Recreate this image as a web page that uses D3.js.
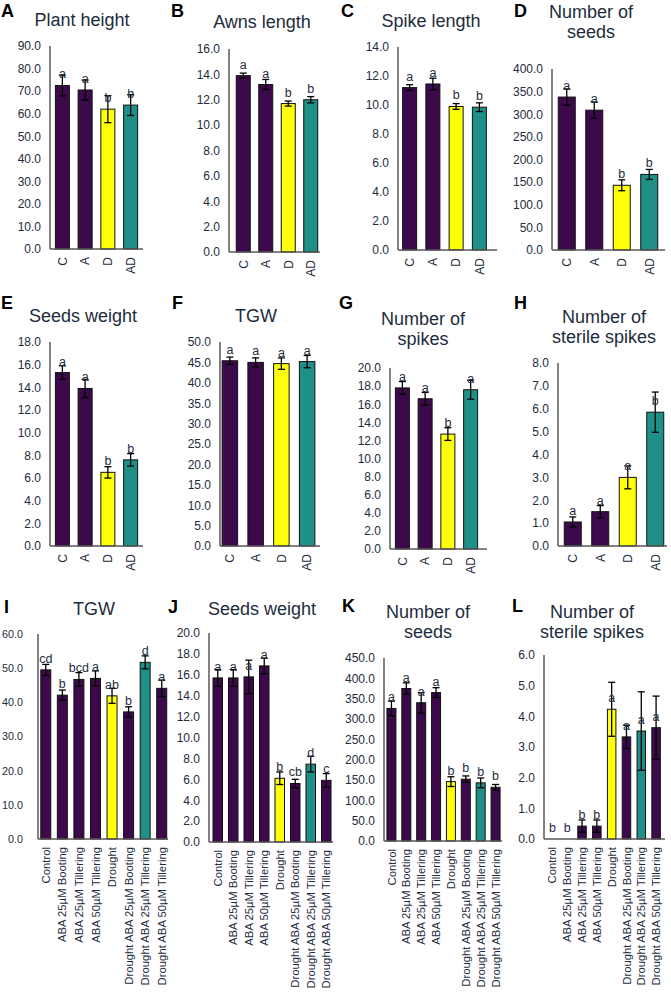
<!DOCTYPE html>
<html>
<head>
<meta charset="utf-8">
<script src="https://cdn.jsdelivr.net/npm/d3@7"></script>
<style>
  html, body { margin: 0; padding: 0; background: #fff; }
  svg { display: block; font-family: "Liberation Sans", Arial, sans-serif; }
</style>
</head>
<body>
<svg id="fig" width="671" height="992"></svg>
<script>
// categories
const catsShort = ["C", "A", "D", "AD"];
const catsLong = ["Control", "ABA 25µM Booting", "ABA 25µM Tillering", "ABA 50µM Tillering",
  "Drought", "Drought ABA 25µM Booting", "Drought ABA 25µM Tillering", "Drought ABA 50µM Tillering"];

const purple = "#3c0a4b", yellow = "#ffff0a", teal = "#1f9087";
const colorsShort = [purple, purple, yellow, teal];
const colorsLong = [purple, purple, purple, purple, yellow, purple, teal, purple];

// panels A-H (C, A, D, AD)
const plantHeight = [72.5, 70.5, 62.0, 63.8];
const plantHeightErr = [4.6, 4.4, 6.0, 4.6];
const plantHeightSig = ["a", "a", "b", "b"];

const awnsLength = [13.9, 13.2, 11.7, 12.0];
const awnsLengthErr = [0.2, 0.4, 0.2, 0.25];
const awnsLengthSig = ["a", "a", "b", "b"];

const spikeLength = [11.2, 11.45, 9.9, 9.85];
const spikeLengthErr = [0.2, 0.4, 0.2, 0.3];
const spikeLengthSig = ["a", "a", "b", "b"];

const seedsNumber = [338, 309, 143, 167];
const seedsNumberErr = [18, 18, 12, 11];
const seedsNumberSig = ["a", "a", "b", "b"];

const seedsWeight = [15.3, 13.9, 6.5, 7.6];
const seedsWeightErr = [0.6, 0.8, 0.5, 0.55];
const seedsWeightSig = ["a", "a", "b", "b"];

const tgw = [45.4, 45.0, 44.7, 45.2];
const tgwErr = [0.9, 1.1, 1.4, 1.5];
const tgwSig = ["a", "a", "a", "a"];

const spikesNumber = [17.8, 16.6, 12.7, 17.6];
const spikesNumberErr = [0.7, 0.7, 0.7, 1.05];
const spikesNumberSig = ["a", "a", "b", "a"];

const sterileSpikes = [1.05, 1.5, 3.0, 5.85];
const sterileSpikesErr = [0.22, 0.27, 0.5, 0.88];
const sterileSpikesSig = ["a", "a", "a", "b"];

// panels I-L (ABA treatments)
const tgwAba = [49.5, 42.1, 46.7, 47.0, 41.9, 37.2, 51.7, 44.1];
const tgwAbaErr = [1.6, 1.5, 2.0, 2.2, 2.2, 1.5, 1.9, 2.4];
const tgwAbaSig = ["cd", "b", "bcd", "a", "ab", "b", "d", "a"];

const seedsWeightAba = [15.7, 15.7, 15.8, 16.85, 6.1, 5.6, 7.45, 5.9];
const seedsWeightAbaErr = [0.8, 0.8, 1.6, 0.75, 0.6, 0.4, 0.75, 0.65];
const seedsWeightAbaSig = ["a", "a", "a", "a", "b", "cb", "d", "c"];

const seedsNumberAba = [326, 375, 340, 365, 146, 152, 143, 132];
const seedsNumberAbaErr = [18, 14, 25, 12, 12, 8, 12, 7];
const seedsNumberAbaSig = ["a", "a", "a", "a", "b", "b", "b", "b"];

const sterileSpikesAba = [0, 0, 0.42, 0.42, 4.23, 3.33, 3.52, 3.63];
const sterileSpikesAbaErr = [0, 0, 0.2, 0.2, 0.88, 0.38, 1.28, 1.03];
const sterileSpikesAbaSig = ["b", "b", "b", "b", "a", "a", "a", "a"];

// layout of each panel (pixel positions)
const panels = [
  { id: "A", title: ["Plant height"], cats: catsShort, colors: colorsShort, vals: plantHeight, errs: plantHeightErr, sig: plantHeightSig,
    yMax: 90, yStep: 10, ax: 50, top: 46, bot: 249, end: 143, b0: 51, b1: 142, bw: 14, lx: 1, ly: 17, tx: 82, ty: 26 },
  { id: "B", title: ["Awns length"], cats: catsShort, colors: colorsShort, vals: awnsLength, errs: awnsLengthErr, sig: awnsLengthSig,
    yMax: 16, yStep: 2, ax: 229, top: 49, bot: 252, end: 320, b0: 232, b1: 322, bw: 14, lx: 171, ly: 17, tx: 262, ty: 28 },
  { id: "C", title: ["Spike length"], cats: catsShort, colors: colorsShort, vals: spikeLength, errs: spikeLengthErr, sig: spikeLengthSig,
    yMax: 14, yStep: 2, ax: 398, top: 47, bot: 250, end: 497, b0: 398, b1: 491, bw: 14, lx: 341, ly: 17, tx: 431, ty: 27 },
  { id: "D", title: ["Number of", "seeds"], cats: catsShort, colors: colorsShort, vals: seedsNumber, errs: seedsNumberErr, sig: seedsNumberSig,
    yMax: 400, yStep: 50, ax: 552, top: 69, bot: 250, end: 665, b0: 553, b1: 663, bw: 17, lx: 514, ly: 17, tx: 591, ty: 18 },
  { id: "E", title: ["Seeds weight"], cats: catsShort, colors: colorsShort, vals: seedsWeight, errs: seedsWeightErr, sig: seedsWeightSig,
    yMax: 18, yStep: 2, ax: 50, top: 342, bot: 546, end: 143, b0: 51, b1: 142, bw: 14, lx: 1, ly: 309, tx: 83, ty: 322 },
  { id: "F", title: ["TGW"], cats: catsShort, colors: colorsShort, vals: tgw, errs: tgwErr, sig: tgwSig,
    yMax: 50, yStep: 5, ax: 220, top: 342, bot: 546, end: 320, b0: 217, b1: 320, bw: 15.5, lx: 172, ly: 309, tx: 256, ty: 322 },
  { id: "G", title: ["Number of", "spikes"], cats: catsShort, colors: colorsShort, vals: spikesNumber, errs: spikesNumberErr, sig: spikesNumberSig,
    yMax: 20, yStep: 2, ax: 390, top: 368, bot: 549, end: 487, b0: 391, b1: 482, bw: 14, lx: 339, ly: 309, tx: 423, ty: 325 },
  { id: "H", title: ["Number of", "sterile spikes"], cats: catsShort, colors: colorsShort, vals: sterileSpikes, errs: sterileSpikesErr, sig: sterileSpikesSig,
    yMax: 8, yStep: 1, ax: 558, top: 363, bot: 546, end: 667, b0: 559, b1: 669, bw: 17, lx: 514, ly: 309, tx: 604, ty: 323 },
  { id: "I", title: ["TGW"], cats: catsLong, colors: colorsLong, vals: tgwAba, errs: tgwAbaErr, sig: tgwAbaSig,
    yMax: 60, yStep: 10, ax: 38, top: 634, bot: 839, end: 168, b0: 37.5, b1: 170, bw: 10, lx: 4, ly: 613, tx: 94, ty: 615, gap: 15, tickSize: 10.8 },
  { id: "J", title: ["Seeds weight"], cats: catsLong, colors: colorsLong, vals: seedsWeightAba, errs: seedsWeightAbaErr, sig: seedsWeightAbaSig,
    yMax: 20, yStep: 2, ax: 209, top: 633, bot: 842, end: 333, b0: 210, b1: 334, bw: 9.5, lx: 168, ly: 613, tx: 262, ty: 615 },
  { id: "K", title: ["Number of", "seeds"], cats: catsLong, colors: colorsLong, vals: seedsNumberAba, errs: seedsNumberAbaErr, sig: seedsNumberAbaSig,
    yMax: 450, yStep: 50, ax: 384, top: 658, bot: 841, end: 502, b0: 384, b1: 503, bw: 9, lx: 342, ly: 612, tx: 428, ty: 618 },
  { id: "L", title: ["Number of", "sterile spikes"], cats: catsLong, colors: colorsLong, vals: sterileSpikesAba, errs: sterileSpikesAbaErr, sig: sterileSpikesAbaSig,
    yMax: 6, yStep: 1, ax: 544, top: 655, bot: 839, end: 665, b0: 545, b1: 663.5, bw: 8.5, lx: 512, ly: 612, tx: 592, ty: 618 }
];

const textColor = "#1d2c3c";
const svg = d3.select("#fig");

panels.forEach(p => {
  const g = svg.append("g").attr("class", "panel panel-" + p.id);

  const y = d3.scaleLinear().domain([0, p.yMax]).range([p.bot, p.top]);
  const x = d3.scaleBand().domain(p.cats).range([p.b0, p.b1]).padding(0);
  const long = p.cats.length > 4;

  // panel letter
  g.append("text")
    .attr("x", p.lx).attr("y", p.ly)
    .text(p.id)
    .style("font-size", "18px").style("font-weight", "bold").style("fill", "#000");

  // title (one or two lines)
  g.append("text")
    .attr("x", p.tx).attr("y", p.ty)
    .attr("text-anchor", "middle")
    .style("font-size", "18px").style("fill", textColor)
    .selectAll("tspan")
    .data(p.title)
    .enter().append("tspan")
    .attr("x", p.tx)
    .attr("dy", (d, i) => i === 0 ? 0 : 20)
    .text(d => d);

  // y tick labels
  const ticks = d3.range(0, p.yMax + p.yStep / 2, p.yStep);
  g.selectAll(".ytick")
    .data(ticks)
    .enter().append("text")
    .attr("class", "ytick")
    .attr("x", p.ax - (p.gap || 9))
    .attr("y", d => y(d))
    .attr("dy", "0.36em")
    .attr("text-anchor", "end")
    .style("font-size", (p.tickSize || 12) + "px").style("fill", textColor)
    .text(d => d3.format(".1f")(d));

  // bars
  const rows = p.cats.map((c, i) => ({ cat: c, v: p.vals[i], e: p.errs[i], s: p.sig[i], col: p.colors[i] }));
  const cx = d => x(d.cat) + x.bandwidth() / 2;

  g.selectAll(".bar")
    .data(rows.filter(d => d.v > 0))
    .enter().append("rect")
    .attr("class", "bar")
    .attr("x", d => cx(d) - p.bw / 2)
    .attr("width", p.bw)
    .attr("y", d => y(d.v))
    .attr("height", d => y(0) - y(d.v))
    .attr("fill", d => d.col)
    .attr("stroke", "#111")
    .attr("stroke-width", 1);

  // error bars
  const eb = g.selectAll(".err")
    .data(rows.filter(d => d.e > 0))
    .enter().append("g")
    .attr("class", "err")
    .attr("stroke", "#000")
    .attr("stroke-width", 1.3);
  eb.append("line")
    .attr("x1", cx).attr("x2", cx)
    .attr("y1", d => y(d.v - d.e)).attr("y2", d => y(d.v + d.e));
  eb.append("line")
    .attr("x1", d => cx(d) - 3.5).attr("x2", d => cx(d) + 3.5)
    .attr("y1", d => y(d.v + d.e)).attr("y2", d => y(d.v + d.e));
  eb.append("line")
    .attr("x1", d => cx(d) - 3.5).attr("x2", d => cx(d) + 3.5)
    .attr("y1", d => y(d.v - d.e)).attr("y2", d => y(d.v - d.e));

  // significance letters
  g.selectAll(".sig")
    .data(rows)
    .enter().append("text")
    .attr("class", "sig")
    .attr("x", cx)
    .attr("y", d => y(d.v) - 7)
    .attr("text-anchor", "middle")
    .style("font-size", "12.5px").style("fill", textColor)
    .text(d => d.s);

  // axis lines
  g.append("line")
    .attr("x1", p.ax).attr("x2", p.ax)
    .attr("y1", p.top).attr("y2", p.bot)
    .attr("stroke", "#595959").attr("stroke-width", 1.5);
  g.append("line")
    .attr("x1", p.ax).attr("x2", p.end)
    .attr("y1", p.bot).attr("y2", p.bot)
    .attr("stroke", "#595959").attr("stroke-width", 1.5);

  // rotated category labels
  g.selectAll(".xlab")
    .data(rows)
    .enter().append("text")
    .attr("class", "xlab")
    .attr("transform", d => `translate(${cx(d)},${p.bot + 8}) rotate(-90)`)
    .attr("text-anchor", "end")
    .attr("dy", "0.36em")
    .style("font-size", long ? "11.3px" : "12px").style("fill", textColor)
    .text(d => d.cat);
});
</script>
</body>
</html>
